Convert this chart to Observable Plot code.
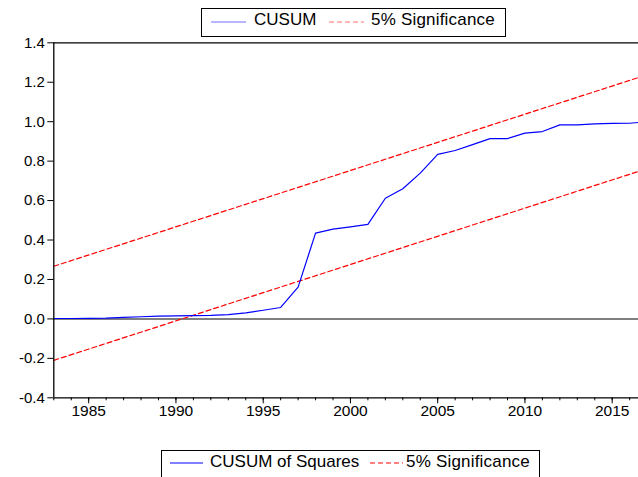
<!DOCTYPE html>
<html><head><meta charset="utf-8">
<script src="https://cdn.jsdelivr.net/npm/d3@7"></script>
<script src="https://cdn.jsdelivr.net/npm/@observablehq/plot@0.6"></script>
<style>
body{margin:0;background:#fff;font-family:"Liberation Sans",Arial,sans-serif;}
#wrap{position:relative;width:638px;height:477px;overflow:hidden;background:#fff;}
#chart{position:absolute;left:0;top:0;}
.box{position:absolute;border:1px solid #000;background:#fff;box-sizing:border-box;}
.lt{position:absolute;font-size:17px;line-height:17px;color:#000;white-space:pre;}
.ls{position:absolute;}
</style></head><body>
<div id="wrap">
  <div id="chart"></div>
  <div class="box" style="left:201px;top:8px;width:305px;height:29px;"></div>
  <svg class="ls" style="left:211px;top:18px" width="36" height="8"><line x1="0" x2="35" y1="4" y2="4" stroke="#7070ff" stroke-width="1.2"/></svg>
  <div class="lt" style="left:254px;top:11px;">CUSUM</div>
  <svg class="ls" style="left:329px;top:18px" width="36" height="8"><line x1="0" x2="35" y1="4" y2="4" stroke="#ff7070" stroke-width="1.2" stroke-dasharray="5,3"/></svg>
  <div class="lt" style="left:371px;top:11px;letter-spacing:0.2px;">5% Significance</div>

  <div class="box" style="left:161px;top:450px;width:379px;height:40px;"></div>
  <svg class="ls" style="left:170px;top:459px" width="36" height="8"><line x1="0" x2="33" y1="4" y2="4" stroke="#0000ff" stroke-width="1.2"/></svg>
  <div class="lt" style="left:210px;top:453px;">CUSUM of Squares</div>
  <svg class="ls" style="left:370px;top:459px" width="36" height="8"><line x1="0" x2="33" y1="4" y2="4" stroke="#ff0000" stroke-width="1.2" stroke-dasharray="5,3"/></svg>
  <div class="lt" style="left:406px;top:453px;letter-spacing:0.2px;">5% Significance</div>
</div>
<script>
const years = [1983,1984,1985,1986,1987,1988,1989,1990,1991,1992,1993,1994,1995,1996,1997,1998,1999,2000,2001,2002,2003,2004,2005,2006,2007,2008,2009,2010,2011,2012,2013,2014,2015,2016,2017];
const cusumSq = [0.002,0.002,0.003,0.004,0.008,0.011,0.014,0.015,0.017,0.018,0.022,0.031,0.044,0.058,0.161,0.435,0.455,0.467,0.479,0.612,0.660,0.739,0.834,0.854,0.884,0.914,0.914,0.942,0.950,0.984,0.984,0.989,0.991,0.992,1.000];
const sigYears = [1983, 2017];
const upperBand = [0.267, 1.238];
const lowerBand = [-0.210, 0.762];
const yTicks = [-0.4,-0.2,0.0,0.2,0.4,0.6,0.8,1.0,1.2,1.4];
const majorYears = [1985,1990,1995,2000,2005,2010,2015];

const cusumData = years.map((x,i)=>({x, y: cusumSq[i]}));
const upData = sigYears.map((x,i)=>({x, y: upperBand[i]}));
const loData = sigYears.map((x,i)=>({x, y: lowerBand[i]}));

const chart = Plot.plot({
  width: 638, height: 430,
  marginTop: 42.3, marginBottom: 32.7, marginLeft: 53.3, marginRight: 0,
  x: {domain: [1983, 2017], range: [53.3, 646.6]},
  y: {domain: [-0.4, 1.4], range: [397.3, 42.3]},
  style: {fontFamily: "Liberation Sans, Arial, sans-serif", fontSize: "15px", color: "#000", background: "white", overflow: "hidden"},
  marks: [
    Plot.ruleY([0], {stroke: "#555", strokeWidth: 1.5}),
    Plot.line(upData, {x: "x", y: "y", stroke: "#ff0000", strokeWidth: 1.2, strokeDasharray: "5,3"}),
    Plot.line(loData, {x: "x", y: "y", stroke: "#ff0000", strokeWidth: 1.2, strokeDasharray: "5,3"}),
    Plot.line(cusumData, {x: "x", y: "y", stroke: "#0000ff", strokeWidth: 1.2}),
    Plot.ruleY([1.4], {stroke: "#000", strokeWidth: 1.3}),
    Plot.ruleY([-0.4], {stroke: "#000", strokeWidth: 1.3}),
    Plot.ruleX([1983], {stroke: "#000", strokeWidth: 1.3}),
    Plot.ruleX([2017], {stroke: "#000", strokeWidth: 1.3}),
    Plot.axisY({ticks: yTicks, tickSize: 6, tickPadding: 3, fontSize: 15, tickFormat: d => d.toFixed(1), label: null}),
    Plot.axisX({ticks: years, tickSize: 3, tickFormat: () => "", label: null}),
    Plot.axisX({ticks: majorYears, tickSize: 6, tickPadding: 1, fontSize: 15.5, tickFormat: d => String(d), label: null})
  ]
});
document.getElementById("chart").appendChild(chart);
</script>
</body></html>
